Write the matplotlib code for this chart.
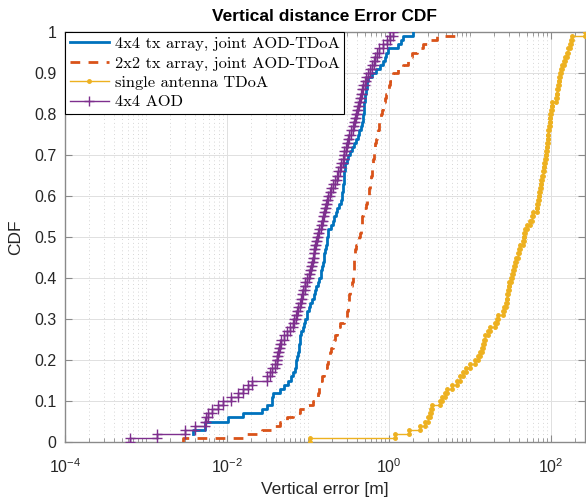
import numpy as np
import matplotlib
matplotlib.use("Agg")
import matplotlib.pyplot as plt
from matplotlib.ticker import FixedLocator, LogLocator, NullFormatter, FuncFormatter
from matplotlib.lines import Line2D

# ---------------- data (sorted error samples, metres) ----------------
series_labels = ["4x4 tx array, joint AOD-TDoA",
                 "2x2 tx array, joint AOD-TDoA",
                 "single antenna TDoA",
                 "4x4 AOD"]

err_4x4_joint = [0.0, 0.0, 0.0038, 0.0053, 0.0053, 0.0103, 0.0158, 0.027, 0.031, 0.036,
                 0.036, 0.037, 0.045, 0.051, 0.057, 0.061, 0.065, 0.069, 0.071, 0.072,
                 0.074, 0.075, 0.077, 0.078, 0.079, 0.080, 0.081, 0.087, 0.090, 0.093,
                 0.096, 0.097, 0.102, 0.106, 0.111, 0.117, 0.122, 0.126, 0.133, 0.138,
                 0.143, 0.146, 0.149, 0.153, 0.156, 0.159, 0.162, 0.167, 0.172, 0.174,
                 0.176, 0.177, 0.190, 0.204, 0.212, 0.220, 0.228, 0.240, 0.252, 0.263,
                 0.266, 0.269, 0.272, 0.275, 0.278, 0.281, 0.284, 0.286, 0.299, 0.312,
                 0.33, 0.35, 0.37, 0.39, 0.41, 0.43, 0.45, 0.46, 0.477, 0.48,
                 0.485, 0.49, 0.495, 0.50, 0.51, 0.52, 0.53, 0.534, 0.55, 0.617,
                 0.70, 0.774, 0.843, 0.90, 0.93, 0.972, 1.29, 1.40, 1.49, 1.98]

err_2x2_joint = [0.00287, 0.0177, 0.027, 0.035, 0.045, 0.055, 0.065, 0.080, 0.097, 0.115,
                 0.129, 0.132, 0.135, 0.138, 0.141, 0.148, 0.156, 0.164, 0.172, 0.177,
                 0.182, 0.187, 0.194, 0.201, 0.208, 0.215, 0.226, 0.237, 0.248, 0.275,
                 0.303, 0.307, 0.311, 0.315, 0.319, 0.323, 0.327, 0.330, 0.345, 0.360,
                 0.363, 0.366, 0.369, 0.372, 0.375, 0.378, 0.380, 0.395, 0.41, 0.425,
                 0.438, 0.446, 0.454, 0.462, 0.470, 0.477, 0.495, 0.515, 0.535, 0.551,
                 0.560, 0.570, 0.580, 0.590, 0.600, 0.610, 0.617, 0.625, 0.635, 0.645,
                 0.655, 0.665, 0.672, 0.69, 0.71, 0.73, 0.75, 0.76, 0.774, 0.80,
                 0.83, 0.85, 0.87, 0.89, 0.93, 0.97, 1.00, 1.03, 1.08, 1.12,
                 1.30, 1.49, 1.70, 1.85, 1.92, 2.22, 2.6, 2.95, 3.9, 6.9]

err_single_tdoa = [0.106, 1.19, 1.77, 2.42, 2.8, 3.03, 3.21, 3.30, 3.40, 4.26,
                   4.51, 4.91, 5.20, 6.00, 6.92, 7.5, 8.2, 9.0, 10.0, 11.5,
                   12.5, 13.2, 13.9, 14.5, 15.0, 15.3, 16.5, 17.7, 20.4, 21.3,
                   22.2, 25.5, 26.5, 27.5, 28.6, 29.0, 29.5, 30.0, 30.3, 32.1,
                   33.0, 34.0, 35.0, 35.9, 37.5, 39.1, 40.2, 41.4, 44.5, 46.5,
                   47.0, 47.7, 50.6, 55.1, 57.5, 60.0, 67.2, 68.0, 69.2, 70.5,
                   71.8, 73.1, 74.5, 76.0, 77.4, 79.5, 81.0, 82.0, 84.0, 86.0,
                   87.5, 89.3, 90.0, 91.0, 91.9, 93.0, 94.5, 96.0, 97.3, 98.5,
                   100.0, 101.5, 103.0, 115.0, 118.0, 120.0, 122.0, 125.0, 127.0, 129.0,
                   133.0, 137.0, 143.0, 149.0, 158.0, 163.0, 172.0, 177.0, 182.0, 263.0]

err_4x4_aod = [0.00063, 0.00138, 0.0030, 0.0040, 0.0054, 0.0055, 0.0058, 0.0065, 0.0078, 0.0089,
               0.0112, 0.0138, 0.0158, 0.018, 0.0204, 0.031, 0.034, 0.036, 0.039, 0.041,
               0.042, 0.043, 0.044, 0.045, 0.046, 0.050, 0.055, 0.060, 0.065, 0.068,
               0.071, 0.073, 0.076, 0.079, 0.081, 0.085, 0.087, 0.091, 0.093, 0.098,
               0.102, 0.105, 0.108, 0.112, 0.115, 0.117, 0.120, 0.123, 0.126, 0.129,
               0.132, 0.138, 0.144, 0.148, 0.155, 0.158, 0.162, 0.166, 0.174, 0.178,
               0.186, 0.195, 0.204, 0.214, 0.229, 0.234, 0.245, 0.257, 0.269, 0.275,
               0.282, 0.295, 0.302, 0.309, 0.324, 0.339, 0.355, 0.372, 0.380, 0.389,
               0.398, 0.417, 0.427, 0.437, 0.457, 0.468, 0.479, 0.501, 0.525, 0.550,
               0.589, 0.617, 0.646, 0.676, 0.708, 0.759, 0.832, 0.933, 1.02, 1.12]

y_ticks = [0, 0.1, 0.2, 0.3, 0.4, 0.5, 0.6, 0.7, 0.8, 0.9, 1]
x_major = [1e-4, 1e-2, 1e0, 1e2]

# ---------------- style ----------------
plt.rcParams['font.family'] = ['Liberation Sans', 'DejaVu Sans']
plt.rcParams['mathtext.fontset'] = 'custom'
plt.rcParams['mathtext.rm'] = 'Liberation Sans'
plt.rcParams['mathtext.it'] = 'Liberation Sans:italic'
plt.rcParams['mathtext.bf'] = 'Liberation Sans:bold'

c_blue, c_orange, c_yellow, c_purple = '#0072BD', '#D95319', '#EDB120', '#7E2F8E'
axis_gray = '#8a8a8a'
text_col = '#262626'


def ecdf_stairs(vals):
    v = np.asarray(vals, dtype=float)
    n = len(v)
    lvl = np.arange(1, n + 1) / n
    keep = v > 0
    v, lvl = v[keep], lvl[keep]
    xs = np.repeat(v, 2)
    ys = np.empty(2 * len(v))
    ys[0::2] = lvl - 1.0 / n
    ys[1::2] = lvl
    return xs, ys


fig = plt.figure(figsize=(5.86, 4.97), dpi=100)
ax = fig.add_axes([65 / 586, 1 - 442 / 497, (585 - 65) / 586, (442 - 32) / 497])

x, y = ecdf_stairs(err_4x4_joint)
ax.plot(x, y, color=c_blue, lw=2.0, zorder=4)
x, y = ecdf_stairs(err_2x2_joint)
ax.plot(x, y, color=c_orange, lw=2.0, dashes=(3.5, 3.0), zorder=3)
x, y = ecdf_stairs(err_single_tdoa)
ax.plot(x, y, color=c_yellow, lw=1.0, marker='.', ms=5, zorder=3)
x, y = ecdf_stairs(err_4x4_aod)
ax.plot(x, y, color=c_purple, lw=1.0, marker='+', ms=7.5, mew=1.0, zorder=5)

ax.set_xscale('log')
ax.set_xlim(1e-4, 263)
ax.set_ylim(0, 1)

ax.xaxis.set_major_locator(FixedLocator(x_major))
ax.xaxis.set_minor_locator(LogLocator(base=10, subs=np.arange(1, 10), numticks=50))
ax.xaxis.set_minor_formatter(NullFormatter())
ax.xaxis.set_major_formatter(FuncFormatter(lambda v, p: r'$10^{%d}$' % int(round(np.log10(v)))))
ax.set_yticks(y_ticks)
ax.set_yticklabels(['%g' % t for t in y_ticks])

ax.grid(which='major', color='#e0e0e0', lw=0.7, ls='-', zorder=0)
ax.grid(which='minor', axis='x', color='#c8c8c8', lw=0.6, ls=(0, (1, 3.5)), zorder=0)
ax.set_axisbelow(True)

for s in ax.spines.values():
    s.set_color(axis_gray)
    s.set_linewidth(1.0)
ax.tick_params(which='both', direction='in', top=True, right=True, color=axis_gray,
               labelcolor=text_col, labelsize=11.5)
ax.tick_params(which='major', length=5)
ax.tick_params(axis='y', which='major', pad=6)
ax.tick_params(axis='x', which='major', pad=11)
ax.tick_params(which='minor', length=3)

ax.set_title('Vertical distance Error CDF', fontsize=12.5, fontweight='bold', color='black', pad=8)
ax.set_xlabel('Vertical error [m]', fontsize=12.5, color=text_col, labelpad=4)
ax.set_ylabel('CDF', fontsize=12.5, color=text_col, labelpad=8)

handles = [Line2D([], [], color=c_blue, lw=2.0),
           Line2D([], [], color=c_orange, lw=2.0, dashes=(3.5, 3.0)),
           Line2D([], [], color=c_yellow, lw=1.0, marker='.', ms=5),
           Line2D([], [], color=c_purple, lw=1.0, marker='+', ms=7.5)]
leg = ax.legend(handles, series_labels, loc='upper left', borderaxespad=0.0,
                prop={'family': ['cmr10', 'DejaVu Serif'], 'size': 11.8},
                fancybox=False, framealpha=1, edgecolor='black', handlelength=2.4,
                handletextpad=0.35, labelspacing=0.3, borderpad=0.28, numpoints=1)
leg.get_frame().set_linewidth(0.8)
leg.set_zorder(10)

fig.savefig('out.png', dpi=100)
